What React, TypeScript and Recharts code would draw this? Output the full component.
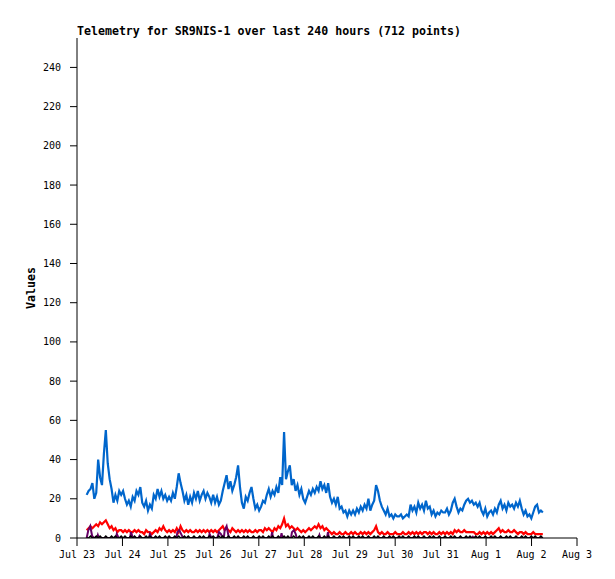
import { LineChart, Line, XAxis, YAxis } from "recharts";

// one telemetry sample roughly every hour, starting a few hours into Jul 23
const firstHour = 5.1;
const stepHours = 1.012;

const dayTicks = [0, 24, 48, 72, 96, 120, 144, 168, 192, 216, 240, 264];
const dayLabels = [
  "Jul 23", "Jul 24", "Jul 25", "Jul 26", "Jul 27", "Jul 28",
  "Jul 29", "Jul 30", "Jul 31", "Aug 1", "Aug 2", "Aug 3",
];
const valueTicks = [0, 20, 40, 60, 80, 100, 120, 140, 160, 180, 200, 220, 240];

const blueValues = [
  22, 24, 25, 28, 20, 23, 40, 31, 27, 43, 55, 38, 30, 25, 18, 22, 19, 24, 22,
  24, 20, 17, 19, 16, 21, 19, 24, 22, 26, 18, 16, 19, 14, 17, 15, 22, 20, 25, 21, 24, 20, 22, 19,
  21, 19, 23, 20, 26, 33, 28, 24, 19, 22, 17, 21, 18, 23, 20, 24, 19, 22, 24, 20, 23, 21, 18, 22,
  18, 21, 17, 19, 24, 28, 32, 25, 29, 24, 27, 31, 37, 26, 18, 15, 21, 19, 23, 26, 20, 15, 17, 14,
  16, 19, 18, 22, 25, 21, 24, 22, 26, 23, 31, 27, 54, 30, 34, 37, 27, 30, 24, 27, 22, 25, 20, 18,
  21, 24, 22, 25, 23, 26, 24, 29, 25, 27, 23, 28, 21, 18, 20, 17, 21, 15, 16, 13, 14, 11, 14, 12,
  14, 12, 15, 13, 16, 14, 17, 15, 20, 14, 17, 19, 27, 24, 19, 16, 14, 12, 15, 11, 12, 10, 12, 11,
  11, 12, 10, 11, 12, 11, 17, 14, 16, 13, 18, 15, 17, 14, 19, 15, 16, 12, 14, 11, 13, 12, 14, 13,
  13, 15, 12, 14, 18, 20, 16, 13, 15, 14, 17, 19, 20, 18, 19, 17, 18, 16, 18, 14, 12, 15, 11, 13,
  14, 12, 15, 13, 17, 19, 15, 17, 14, 18, 16, 17, 15, 18, 16, 19, 15, 12, 14, 11, 12, 10, 13, 16,
  17, 13, 14, 13,
];

const redValues = [
  4, 5, 6, 5, 6, 7, 6, 8, 7, 8, 9, 7, 5, 6, 4, 5, 3, 4, 4,
  3, 4, 3, 4, 3, 3, 4, 3, 4, 3, 3, 2, 4, 3, 3, 2, 3, 4, 3, 5, 4, 6, 4, 3,
  4, 3, 4, 3, 5, 3, 6, 4, 3, 4, 3, 4, 3, 3, 4, 3, 4, 3, 4, 3, 4, 3, 4, 3,
  4, 3, 4, 5, 6, 4, 5, 4, 3, 5, 4, 3, 4, 3, 4, 3, 4, 3, 4, 3, 3, 4, 3, 4,
  4, 3, 5, 4, 5, 4, 3, 5, 4, 6, 5, 7, 10, 6, 7, 5, 6, 5, 4, 5, 4, 3, 4, 3,
  4, 5, 4, 5, 6, 5, 7, 5, 6, 4, 5, 4, 3, 2, 3, 2, 2, 3, 2, 2, 3, 2, 2, 3,
  2, 3, 2, 2, 3, 2, 3, 2, 3, 2, 3, 4, 6, 3, 2, 3, 2, 2, 3, 2, 2, 2, 3, 2,
  2, 2, 3, 2, 2, 3, 2, 3, 2, 3, 2, 3, 2, 3, 3, 2, 3, 2, 3, 2, 2, 3, 2, 3,
  2, 3, 2, 3, 2, 4, 3, 4, 3, 3, 4, 3, 3, 3, 3, 3, 2, 2, 3, 2, 3, 2, 3, 2,
  3, 2, 3, 4, 5, 3, 4, 3, 3, 4, 3, 3, 4, 3, 2, 3, 3, 2, 3, 2, 2, 2, 3, 2,
  2, 2, 2, 2,
];

const blackValues = [
  0, 0, 1, 0, 0, 1, 0, 1, 0, 0, 1, 0, 0, 1, 0, 1, 0, 0, 1,
  0, 1, 0, 0, 1, 0, 1, 0, 0, 1, 0, 0, 1, 0, 1, 0, 0, 1, 0, 1, 0, 0, 1, 0,
  1, 0, 0, 1, 0, 1, 0, 0, 1, 0, 1, 0, 0, 1, 0, 0, 1, 0, 1, 0, 0, 1, 0, 1,
  0, 0, 1, 0, 1, 0, 0, 1, 0, 0, 1, 0, 1, 0, 0, 1, 0, 1, 0, 0, 1, 0, 0, 1,
  0, 1, 0, 0, 1, 0, 1, 0, 0, 1, 0, 0, 1, 0, 1, 0, 0, 1, 0, 0, 1, 0, 1, 0,
  0, 1, 0, 1, 0, 0, 1, 0, 0, 1, 0, 1, 0, 0, 1, 0, 0, 1, 0, 1, 0, 0, 1, 0,
  1, 0, 0, 1, 0, 1, 0, 0, 1, 0, 0, 1, 0, 1, 0, 0, 1, 0, 0, 1, 0, 1, 0, 0,
  1, 0, 1, 0, 0, 1, 0, 0, 1, 0, 1, 0, 0, 1, 0, 0, 1, 0, 1, 0, 0, 1, 0, 0,
  1, 0, 0, 1, 0, 1, 0, 0, 1, 0, 0, 1, 0, 1, 0, 0, 1, 0, 1, 0, 0, 1, 0, 0,
  1, 0, 1, 0, 0, 1, 0, 0, 1, 0, 1, 0, 0, 1, 0, 0, 1, 0, 1, 0, 0, 1, 0, 1,
  0, 0, 1, 0,
];

// purple channel is zero almost everywhere; [hour, value]
const purplePoints = [
  [5.1, 0], [6, 4], [7, 6], [8, 1], [9, 0], [10.5, 0], [11, 1.5], [11.5, 0],
  [20.5, 0], [21, 2], [22, 0], [28, 0], [28.5, 3], [29.5, 0], [32.5, 0], [33, 1], [33.5, 0],
  [38, 0], [38.5, 2], [39.5, 0], [52.5, 0], [53, 3], [54, 4], [55, 2], [56, 0],
  [69.5, 0], [70, 2], [71, 0], [74, 0], [75, 3], [76, 2], [77, 0],
  [77.5, 0], [78, 4], [79, 6], [80, 1], [80.5, 0], [102.5, 0], [103, 3], [103.5, 0],
  [107.5, 0], [108, 2.5], [108.5, 0], [113, 0], [113.5, 3], [114.5, 4], [115.5, 2], [116, 0],
  [127.5, 0], [128, 1.5], [128.5, 0], [132, 0], [132.5, 3], [133, 0],
  [208.5, 0], [209, 0.6], [209.5, 0], [246, 0],
];

const series = (values: number[]) =>
  values.map((v, i) => ({ t: firstHour + i * stepHours, v }));

const blueData = series(blueValues);
const redData = series(redValues);
const blackData = series(blackValues);
const purpleData = purplePoints.map(([t, v]) => ({ t, v }));

const FONT = "'DejaVu Sans Mono', monospace";
const tickStyle = { fill: "#000", fontSize: 10, fontFamily: FONT };

const App = () => {
  return (
    <div style={{ position: "absolute", left: 0, top: 0, width: 615, height: 579, background: "#fff" }}>
      <LineChart width={615} height={579} margin={{ top: 38, right: 38, bottom: 0, left: 0 }}>
        <XAxis
          xAxisId="bottom"
          dataKey="t"
          type="number"
          domain={[0, 264]}
          ticks={dayTicks}
          tickFormatter={(h: number) => dayLabels[dayTicks.indexOf(h)]}
          interval={0}
          height={41}
          tickSize={8}
          tickMargin={5}
          tick={tickStyle}
          axisLine={{ stroke: "#000" }}
          tickLine={{ stroke: "#000" }}
          allowDataOverflow
        />
        <XAxis
          xAxisId="top"
          orientation="top"
          dataKey="t"
          type="number"
          domain={[0, 264]}
          height={0}
          tick={false}
          tickLine={false}
          axisLine={{ stroke: "#444" }}
        />
        <YAxis
          yAxisId="left"
          type="number"
          domain={[0, 255]}
          ticks={valueTicks}
          interval={0}
          width={77}
          tickSize={7}
          tickMargin={9}
          tick={tickStyle}
          axisLine={{ stroke: "#000" }}
          tickLine={{ stroke: "#000" }}
          allowDataOverflow
        />
        <YAxis
          yAxisId="right"
          orientation="right"
          type="number"
          domain={[0, 255]}
          width={0}
          tick={false}
          tickLine={false}
          axisLine={{ stroke: "#444" }}
        />
        <Line
          xAxisId="bottom"
          yAxisId="left"
          data={blueData}
          dataKey="v"
          type="linear"
          stroke="#0066cc"
          strokeWidth={2.2}
          dot={false}
          isAnimationActive={false}
        />
        <Line
          xAxisId="bottom"
          yAxisId="left"
          data={redData}
          dataKey="v"
          type="linear"
          stroke="#ff0000"
          strokeWidth={2.2}
          dot={false}
          isAnimationActive={false}
        />
        <Line
          xAxisId="bottom"
          yAxisId="left"
          data={purpleData}
          dataKey="v"
          type="linear"
          stroke="#660066"
          strokeWidth={2}
          dot={false}
          isAnimationActive={false}
        />
        <Line
          xAxisId="bottom"
          yAxisId="left"
          data={blackData}
          dataKey="v"
          type="linear"
          stroke="#000000"
          strokeWidth={1.5}
          dot={false}
          isAnimationActive={false}
        />
      </LineChart>
      <svg
        width={615}
        height={579}
        style={{ position: "absolute", left: 0, top: 0, pointerEvents: "none" }}
      >
        <text x={77} y={35} fontFamily={FONT} fontSize={11.6} fontWeight="bold" fill="#000">
          Telemetry for SR9NIS-1 over last 240 hours (712 points)
        </text>
        <text
          x={35}
          y={288}
          transform="rotate(-90 35 288)"
          textAnchor="middle"
          fontFamily={FONT}
          fontSize={11.6}
          fontWeight="bold"
          fill="#000"
        >
          Values
        </text>
      </svg>
    </div>
  );
};

export default App;
